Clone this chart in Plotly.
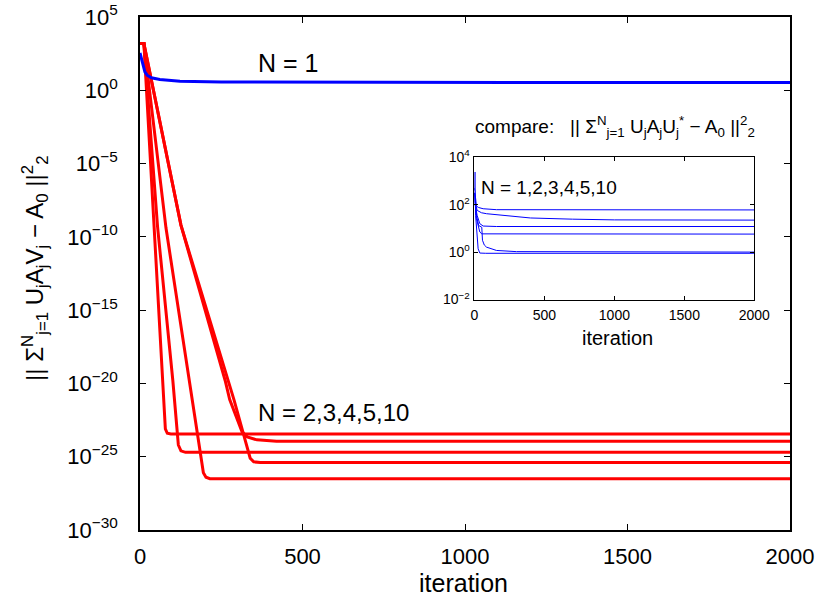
import plotly.graph_objects as go

# ---------------- data ----------------
# main panel: N = 1 (blue), log10 of error
n1_iter = [0, 3, 8, 15, 22, 35, 61, 123, 250, 600, 1200, 2000]
n1_log10 = [2.55, 2.3, 1.7, 1.25, 1.03, 0.85, 0.73, 0.62, 0.57, 0.54, 0.53, 0.53]

# main panel: N = 2,3,4,5,10 (red), log10 of error
redA_iter = [0, 12, 78, 84, 95, 2000]
redA_log10 = [3.2, 3.2, -23.1, -23.4, -23.45, -23.45]
redB_iter = [0, 12, 54, 101, 118, 126, 140, 2000]
redB_log10 = [3.2, 3.2, -9.3, -19.8, -24.2, -24.6, -24.7, -24.7]
redC_iter = [0, 12, 80, 152, 195, 203, 215, 2000]
redC_log10 = [3.2, 3.2, -9.4, -19.8, -26.1, -26.4, -26.5, -26.5]
redD_iter = [0, 12, 126, 262, 276, 314, 330, 360, 420, 2000]
redD_log10 = [3.2, 3.2, -9.2, -19.8, -21.1, -23.3, -23.65, -23.85, -23.95, -23.95]
redE_iter = [0, 12, 126, 272, 289, 339, 350, 370, 2000]
redE_log10 = [3.2, 3.2, -9.2, -19.8, -21.1, -25.1, -25.35, -25.4, -25.4]

# inset panel: N = 1,2,3,4,5,10 (blue), log10 of error
in1_iter = [0, 5, 14, 30, 62, 157, 2000]
in1_log10 = [2.7, 2.3, 1.94, 1.88, 1.83, 1.79, 1.78]
in2_iter = [0, 5, 19, 50, 86, 157, 207, 400, 700, 1000, 2000]
in2_log10 = [2.5, 2.1, 1.76, 1.66, 1.62, 1.58, 1.53, 1.44, 1.39, 1.36, 1.35]
in3_iter = [0, 5, 19, 38, 62, 157, 2000]
in3_log10 = [2.5, 2.0, 1.55, 1.2, 1.1, 1.08, 1.08]
in4_iter = [0, 5, 14, 38, 52, 2000]
in4_log10 = [2.5, 1.9, 1.41, 0.85, 0.77, 0.76]
in5_iter = [0, 5, 16, 30, 52, 57, 70, 86, 157, 300, 2000]
in5_log10 = [2.5, 2.0, 1.5, 1.12, 1.05, 0.5, 0.3, 0.21, 0.07, 0.02, 0.0]
in6_iter = [0, 3, 5, 8, 26, 38, 80, 2000]
in6_log10 = [2.6, 3.38, 2.5, 1.55, 0.14, -0.04, -0.05, -0.05]

main_y_exps = [5, 0, -5, -10, -15, -20, -25, -30]
main_x_ticks = [0, 500, 1000, 1500, 2000]
inset_y_exps = [4, 2, 0, -2]
inset_x_ticks = [0, 500, 1000, 1500, 2000]

FONT = "Liberation Sans, Arial, Helvetica, sans-serif"


def pw(vals):
    return [10 ** v for v in vals]


def exp_label(e):
    s = str(e).replace("-", "\u2212")
    return "10<sup>" + s + "</sup>"


fig = go.Figure()

for xs, ys in [(redA_iter, redA_log10), (redB_iter, redB_log10), (redC_iter, redC_log10),
               (redD_iter, redD_log10), (redE_iter, redE_log10)]:
    fig.add_trace(go.Scatter(x=xs, y=pw(ys), mode="lines",
                             line=dict(color="#ff0000", width=3),
                             xaxis="x", yaxis="y", showlegend=False))

fig.add_trace(go.Scatter(x=n1_iter, y=pw(n1_log10), mode="lines",
                         line=dict(color="#0000ff", width=3),
                         xaxis="x", yaxis="y", showlegend=False))

for xs, ys in [(in1_iter, in1_log10), (in2_iter, in2_log10), (in3_iter, in3_log10),
               (in4_iter, in4_log10), (in5_iter, in5_log10), (in6_iter, in6_log10)]:
    fig.add_trace(go.Scatter(x=xs, y=pw(ys), mode="lines",
                             line=dict(color="#0000ff", width=1),
                             xaxis="x2", yaxis="y2", showlegend=False))

axis_common = dict(showline=True, linecolor="black", mirror="ticks", ticks="inside",
                   tickcolor="black", showgrid=False, zeroline=False, automargin=False,
                   ticklabeloverflow="allow")

fig.update_layout(
    width=817, height=601,
    margin=dict(l=140, r=27, t=17, b=71, autoexpand=False),
    paper_bgcolor="white", plot_bgcolor="white",
    font=dict(family=FONT, color="black"),
    xaxis=dict(domain=[0, 1], range=[0, 2000], tickvals=main_x_ticks,
               ticktext=[str(v) for v in main_x_ticks], ticklen=6, tickwidth=1,
               linewidth=1.5, tickfont=dict(size=22), ticklabelstandoff=6,
               anchor="y", **axis_common),
    yaxis=dict(domain=[0, 1], type="log", range=[-30, 5],
               tickvals=pw(main_y_exps), ticktext=[exp_label(e) for e in main_y_exps],
               ticklen=6, tickwidth=1, linewidth=1.5, tickfont=dict(size=22),
               ticklabelstandoff=16, anchor="x", **axis_common),
    xaxis2=dict(domain=[0.5146, 0.9451], range=[0, 2000], tickvals=inset_x_ticks,
                ticktext=[str(v) for v in inset_x_ticks], ticklen=4, tickwidth=1,
                linewidth=1, tickfont=dict(size=14), ticklabelstandoff=3,
                anchor="y2", **axis_common),
    yaxis2=dict(domain=[0.4493, 0.7265], type="log", range=[-2, 4],
                tickvals=pw(inset_y_exps), ticktext=[exp_label(e) for e in inset_y_exps],
                ticklen=4, tickwidth=1, linewidth=1, tickfont=dict(size=14),
                ticklabelstandoff=1, anchor="x2", **axis_common),
)

ytitle = ("|| \u03a3<sup>N</sup><sub>j=1</sub> U<sub>j</sub>A<sub>j</sub>V<sub>j</sub>"
          " \u2212 A<sub>0</sub> ||<sup>2</sup><sub>2</sub>")
inset_title = ("compare:\u00a0\u00a0 || \u03a3<sup>N</sup><sub>j=1</sub> U<sub>j</sub>A<sub>j</sub>"
               "U<sub>j</sub><sup>*</sup> \u2212 A<sub>0</sub> ||<sup>2</sup><sub>2</sub>")

annotations = [
    dict(text=ytitle, x=-0.1615, y=0.509, textangle=-90, font=dict(size=24)),
    dict(text="iteration", x=0.497, y=-0.103, font=dict(size=25)),
    dict(text="N = 1", x=0.178, y=0.911, xanchor="left", font=dict(size=25)),
    dict(text="N = 2,3,4,5,10", x=0.178, y=0.230, xanchor="left", font=dict(size=24)),
    dict(text=inset_title, x=0.512, y=0.7875, xanchor="left", font=dict(size=19)),
    dict(text="N = 1,2,3,4,5,10", x=0.522, y=0.667, xanchor="left", font=dict(size=19)),
    dict(text="iteration", x=0.735, y=0.374, font=dict(size=20)),
]
for a in annotations:
    a.setdefault("xanchor", "center")
    fig.add_annotation(xref="paper", yref="paper", showarrow=False, yanchor="middle", **a)

# remove the default 8px page margin so the figure fills the window exactly
fig.write_html("out.html", config={"displayModeBar": False},
               post_script="document.body.style.margin='0';")
